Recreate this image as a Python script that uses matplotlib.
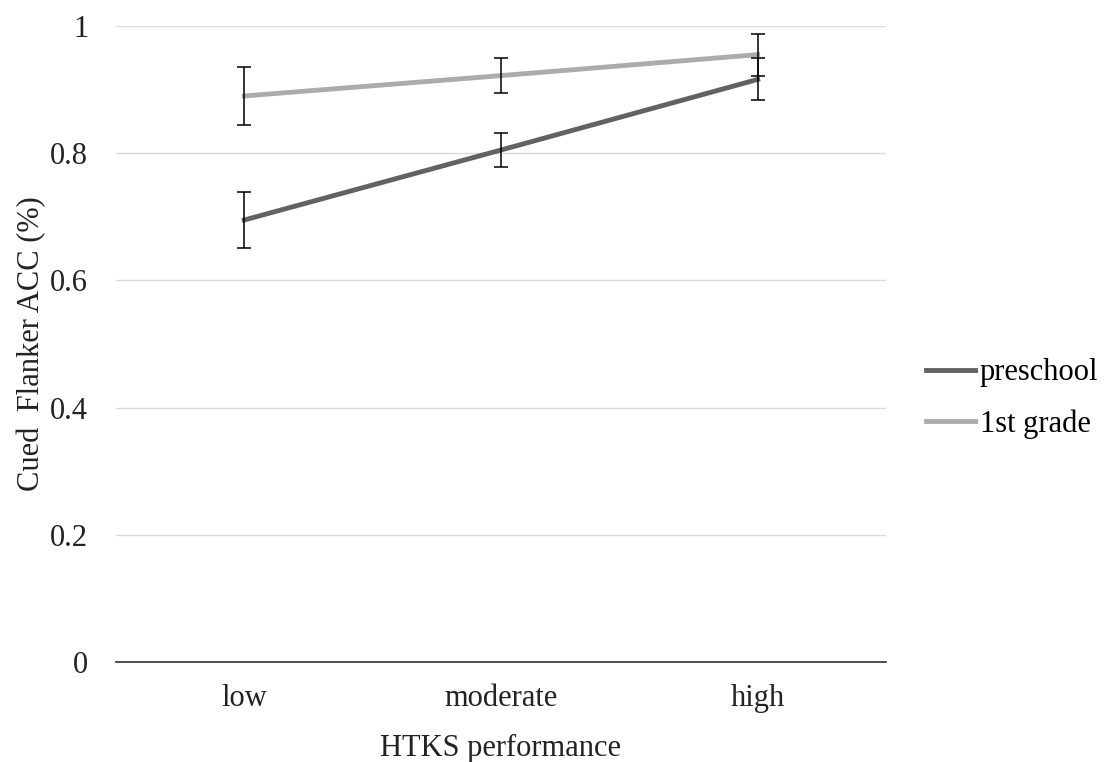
import numpy as np
import matplotlib
matplotlib.use("Agg")
import matplotlib.pyplot as plt

# data
categories = ["low", "moderate", "high"]
preschool = [0.695, 0.805, 0.916]
preschool_err = [0.044, 0.027, 0.033]
first_grade = [0.890, 0.922, 0.955]
first_grade_err = [0.046, 0.027, 0.033]
yticks = [0, 0.2, 0.4, 0.6, 0.8, 1]
ytick_labels = ["0", "0.2", "0.4", "0.6", "0.8", "1"]

plt.rcParams['font.family'] = ['Liberation Serif', 'DejaVu Serif']
fs = 22

fig = plt.figure(figsize=(11.13, 7.62), dpi=100)
ax = fig.add_axes([116/1113, 100/762, (886-116)/1113, (662-26)/762])

x = np.arange(len(categories))
ax.plot(x, preschool, color="#626262", lw=3.5, label="preschool", zorder=3)
ax.plot(x, first_grade, color="#ababab", lw=3.5, label="1st grade", zorder=3)
ax.errorbar(x, preschool, yerr=preschool_err, fmt="none", ecolor="black",
            elinewidth=1.1, capsize=5, capthick=1.1, zorder=4)
ax.errorbar(x, first_grade, yerr=first_grade_err, fmt="none", ecolor="black",
            elinewidth=1.1, capsize=5, capthick=1.1, zorder=4)

ax.set_xlim(-0.5, 2.5)
ax.set_ylim(0, 1)
ax.set_xticks(x)
ax.set_xticklabels(categories)
ax.set_yticks(yticks)
ax.set_yticklabels(ytick_labels)
ax.tick_params(axis="both", length=0, labelsize=fs, colors="#222222")
ax.tick_params(axis="x", pad=16)
ax.tick_params(axis="y", pad=20)
ax.grid(axis="y", color="#d9d9d9", lw=1)
ax.set_axisbelow(True)
for s in ["top", "right", "left"]:
    ax.spines[s].set_visible(False)
ax.spines["bottom"].set_color("#404040")
ax.spines["bottom"].set_linewidth(1.3)
ax.spines["bottom"].set_zorder(5)

ax.set_xlabel("HTKS performance", fontsize=fs, color="#222222", labelpad=15)
ax.set_ylabel("Cued  Flanker ACC (%)", fontsize=fs, color="#222222", labelpad=3)

ax.legend(loc="center left", bbox_to_anchor=(1.052, 0.414), frameon=False,
          fontsize=fs, handlelength=1.6, handletextpad=0.15, labelspacing=0.73,
          borderpad=0, borderaxespad=0)

fig.savefig("out.png", dpi=100)
